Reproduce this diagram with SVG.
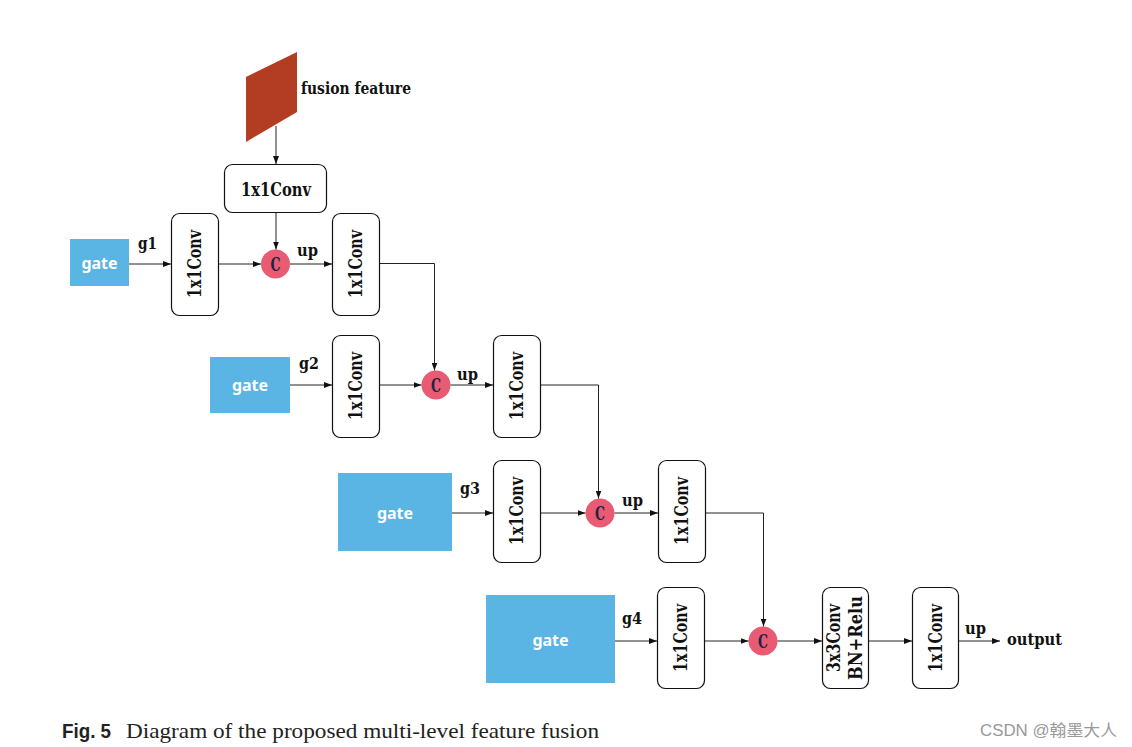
<svg xmlns="http://www.w3.org/2000/svg" width="1132" height="747" viewBox="0 0 1132 747">
<style>
.box{fill:#fff;stroke:#111;stroke-width:1.2}
.gate{fill:#5ab4e4}
.gt{font-family:"Noto Sans","DejaVu Sans",sans-serif;font-weight:bold;font-size:16px;fill:#fff;text-anchor:middle}
.lbl{font-family:"DejaVu Serif","Liberation Serif",serif;font-weight:bold;font-stretch:condensed;font-size:17px;fill:#111}
.ct{font-family:"DejaVu Serif","Liberation Serif",serif;font-weight:bold;font-stretch:condensed;font-size:19px;fill:#111;text-anchor:middle}
.cc{fill:#e95b72}
.ctext{font-family:"DejaVu Serif","Liberation Serif",serif;font-weight:bold;font-stretch:condensed;font-size:18px;fill:#1d2545;text-anchor:middle}
.ln{fill:none;stroke:#222;stroke-width:1}
</style>
<defs>
<marker id="ah" viewBox="0 0 8 6" refX="8" refY="3" markerWidth="8" markerHeight="6" markerUnits="userSpaceOnUse" orient="auto">
<path d="M0,0 L8,3 L0,6 z" fill="#111"/>
</marker>
</defs>
<rect width="1132" height="747" fill="#fff"/>

<g id="fusion">
<polygon points="246,77 297,52 297,112 246,142" fill="#b33d22"/>
<text class="lbl" x="301" y="94" textLength="110" lengthAdjust="spacingAndGlyphs">fusion feature</text>
</g>

<g id="conv_top">
<rect class="box" x="224.5" y="164.5" width="102" height="48" rx="8"/>
<text class="ct" x="276" y="196" textLength="70" lengthAdjust="spacingAndGlyphs">1x1Conv</text>
</g>

<!-- Row 1 -->
<g id="gate1"><rect class="gate" x="70" y="239" width="59" height="47"/><text class="gt" x="99.5" y="269">gate</text></g>
<g id="conv1a"><rect class="box" x="171.5" y="213.5" width="47" height="102" rx="8"/><text class="ct" transform="translate(201,264) rotate(-90)" textLength="68" lengthAdjust="spacingAndGlyphs">1x1Conv</text></g>
<g id="c1"><circle class="cc" cx="275.5" cy="264" r="14.5"/><text class="ctext" x="275.5" y="271" textLength="10" lengthAdjust="spacingAndGlyphs">C</text></g>
<g id="conv1b"><rect class="box" x="332.5" y="213.5" width="47" height="102" rx="8"/><text class="ct" transform="translate(362,264) rotate(-90)" textLength="68" lengthAdjust="spacingAndGlyphs">1x1Conv</text></g>

<!-- Row 2 -->
<g id="gate2"><rect class="gate" x="210" y="357" width="80" height="56"/><text class="gt" x="250" y="391">gate</text></g>
<g id="conv2a"><rect class="box" x="332.5" y="335.5" width="47" height="102" rx="8"/><text class="ct" transform="translate(362,386) rotate(-90)" textLength="68" lengthAdjust="spacingAndGlyphs">1x1Conv</text></g>
<g id="c2"><circle class="cc" cx="436" cy="385" r="14.5"/><text class="ctext" x="436" y="392" textLength="10" lengthAdjust="spacingAndGlyphs">C</text></g>
<g id="conv2b"><rect class="box" x="493.5" y="335.5" width="47" height="102" rx="8"/><text class="ct" transform="translate(523,386) rotate(-90)" textLength="68" lengthAdjust="spacingAndGlyphs">1x1Conv</text></g>

<!-- Row 3 -->
<g id="gate3"><rect class="gate" x="338" y="473" width="114" height="78"/><text class="gt" x="395" y="519">gate</text></g>
<g id="conv3a"><rect class="box" x="493.5" y="460.5" width="47" height="102" rx="8"/><text class="ct" transform="translate(523,511) rotate(-90)" textLength="68" lengthAdjust="spacingAndGlyphs">1x1Conv</text></g>
<g id="c3"><circle class="cc" cx="600" cy="513" r="14.5"/><text class="ctext" x="600" y="520" textLength="10" lengthAdjust="spacingAndGlyphs">C</text></g>
<g id="conv3b"><rect class="box" x="658.5" y="460.5" width="47" height="102" rx="8"/><text class="ct" transform="translate(688,511) rotate(-90)" textLength="68" lengthAdjust="spacingAndGlyphs">1x1Conv</text></g>

<!-- Row 4 -->
<g id="gate4"><rect class="gate" x="486" y="595" width="129" height="88"/><text class="gt" x="550.5" y="646">gate</text></g>
<g id="conv4a"><rect class="box" x="657.5" y="587.5" width="47" height="101" rx="8"/><text class="ct" transform="translate(687,638) rotate(-90)" textLength="68" lengthAdjust="spacingAndGlyphs">1x1Conv</text></g>
<g id="c4"><circle class="cc" cx="763" cy="641" r="14.5"/><text class="ctext" x="763" y="648" textLength="10" lengthAdjust="spacingAndGlyphs">C</text></g>
<g id="conv3x3"><rect class="box" x="822.5" y="587.5" width="46" height="101" rx="8"/>
<text class="ct" transform="translate(840,638) rotate(-90)" textLength="68" lengthAdjust="spacingAndGlyphs">3x3Conv</text>
<text class="ct" transform="translate(862,638) rotate(-90)" textLength="84" lengthAdjust="spacingAndGlyphs">BN+Relu</text></g>
<g id="conv_out"><rect class="box" x="912.5" y="587.5" width="46" height="101" rx="8"/><text class="ct" transform="translate(942,638) rotate(-90)" textLength="68" lengthAdjust="spacingAndGlyphs">1x1Conv</text></g>

<g id="connectors">
<path class="ln" d="M276,126 V164" marker-end="url(#ah)"/>
<path class="ln" d="M276,213 V249.5" marker-end="url(#ah)"/>
<path class="ln" d="M129,264 H171" marker-end="url(#ah)"/>
<path class="ln" d="M219,264 H261" marker-end="url(#ah)"/>
<path class="ln" d="M290,264 H332" marker-end="url(#ah)"/>
<path class="ln" d="M380,263.5 H434.5 V370.5" marker-end="url(#ah)"/>
<path class="ln" d="M290,385 H332" marker-end="url(#ah)"/>
<path class="ln" d="M380,385 H421.5" marker-end="url(#ah)"/>
<path class="ln" d="M450.5,385 H493" marker-end="url(#ah)"/>
<path class="ln" d="M541,385 H598.5 V498.5" marker-end="url(#ah)"/>
<path class="ln" d="M452,513 H493" marker-end="url(#ah)"/>
<path class="ln" d="M541,513 H585.5" marker-end="url(#ah)"/>
<path class="ln" d="M614.5,513 H658" marker-end="url(#ah)"/>
<path class="ln" d="M706,513 H763.5 V626.5" marker-end="url(#ah)"/>
<path class="ln" d="M615,641 H657" marker-end="url(#ah)"/>
<path class="ln" d="M705,641 H748.5" marker-end="url(#ah)"/>
<path class="ln" d="M777.5,641 H822" marker-end="url(#ah)"/>
<path class="ln" d="M869,641 H912" marker-end="url(#ah)"/>
<path class="ln" d="M959,641 H1000" marker-end="url(#ah)"/>
</g>

<g id="labels">
<text class="lbl" x="138" y="249" textLength="19" lengthAdjust="spacingAndGlyphs">g1</text>
<text class="lbl" x="297" y="256" textLength="21" lengthAdjust="spacingAndGlyphs">up</text>
<text class="lbl" x="299" y="369" textLength="20" lengthAdjust="spacingAndGlyphs">g2</text>
<text class="lbl" x="457" y="380" textLength="21" lengthAdjust="spacingAndGlyphs">up</text>
<text class="lbl" x="460" y="494" textLength="20" lengthAdjust="spacingAndGlyphs">g3</text>
<text class="lbl" x="622" y="506" textLength="21" lengthAdjust="spacingAndGlyphs">up</text>
<text class="lbl" x="622" y="624" textLength="20" lengthAdjust="spacingAndGlyphs">g4</text>
<text class="lbl" x="965" y="634" textLength="21" lengthAdjust="spacingAndGlyphs">up</text>
<text class="lbl" x="1007" y="645" textLength="55" lengthAdjust="spacingAndGlyphs">output</text>
</g>

<g id="caption">
<text x="62" y="738" font-family="'Liberation Sans',sans-serif" font-weight="bold" font-size="20" fill="#222" textLength="49" lengthAdjust="spacingAndGlyphs">Fig. 5</text>
<text x="126" y="738" font-family="'Liberation Serif',serif" font-size="21" fill="#222" textLength="473" lengthAdjust="spacingAndGlyphs">Diagram of the proposed multi-level feature fusion</text>
<text x="980" y="736" font-family="'Liberation Sans','Noto Sans CJK SC',sans-serif" font-size="16" fill="#999" textLength="137" lengthAdjust="spacingAndGlyphs">CSDN @翰墨大人</text>
</g>
</svg>
